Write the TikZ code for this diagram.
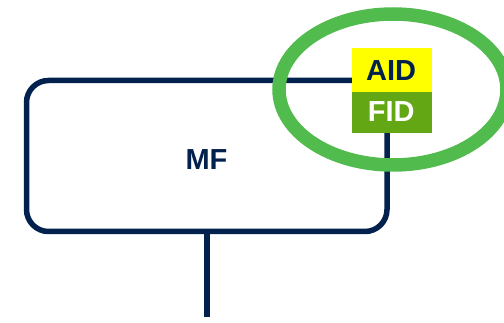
\documentclass[tikz,border=0pt]{standalone}
\usepackage{fontspec}
\setmainfont{Liberation Sans}
\definecolor{navy}{HTML}{03214D}
\definecolor{aidyellow}{HTML}{FFFF00}
\definecolor{fidgreen}{HTML}{63A814}
\definecolor{ringgreen}{HTML}{52BB4E}
\tikzset{
  lbl/.style={font=\bfseries\fontsize{29}{29}\selectfont},
  mfbox/.style={draw=navy, line width=5.5pt, rounded corners=22pt, minimum width=360.5pt, minimum height=151pt, inner sep=0pt, outer sep=0pt},
  wire/.style={draw=navy, line width=5.5pt},
  tagbox/.style={inner sep=0pt, outer sep=0pt, minimum width=80pt},
  ring/.style={draw=ringgreen, line width=13.5pt}
}
\begin{document}
\begin{tikzpicture}[x=1pt,y=-1pt]
\useasboundingbox (0,0) rectangle (504,323);
\node[mfbox] (mf) at (206.75,156) {};
\node[lbl, text=navy, anchor=base] (mflabel) at (206.5,169.3) {MF};
\coordinate (bottomend) at (206.75,316.7);
\draw[wire] (mf.south) -- (bottomend);
\node[tagbox, fill=aidyellow, minimum height=43.4pt] (aid) at (391.7,70) {};
\node[tagbox, fill=fidgreen, minimum height=41.6pt] (fid) at (391.7,112.5) {};
\node[lbl, text=navy, anchor=base] (aidlabel) at (391.2,81) {AID};
\node[lbl, text=white, anchor=base] (fidlabel) at (391.2,121.7) {FID};
\draw[ring] (393,89.5) ellipse [x radius=114pt, y radius=75.5pt];
\end{tikzpicture}
\end{document}
